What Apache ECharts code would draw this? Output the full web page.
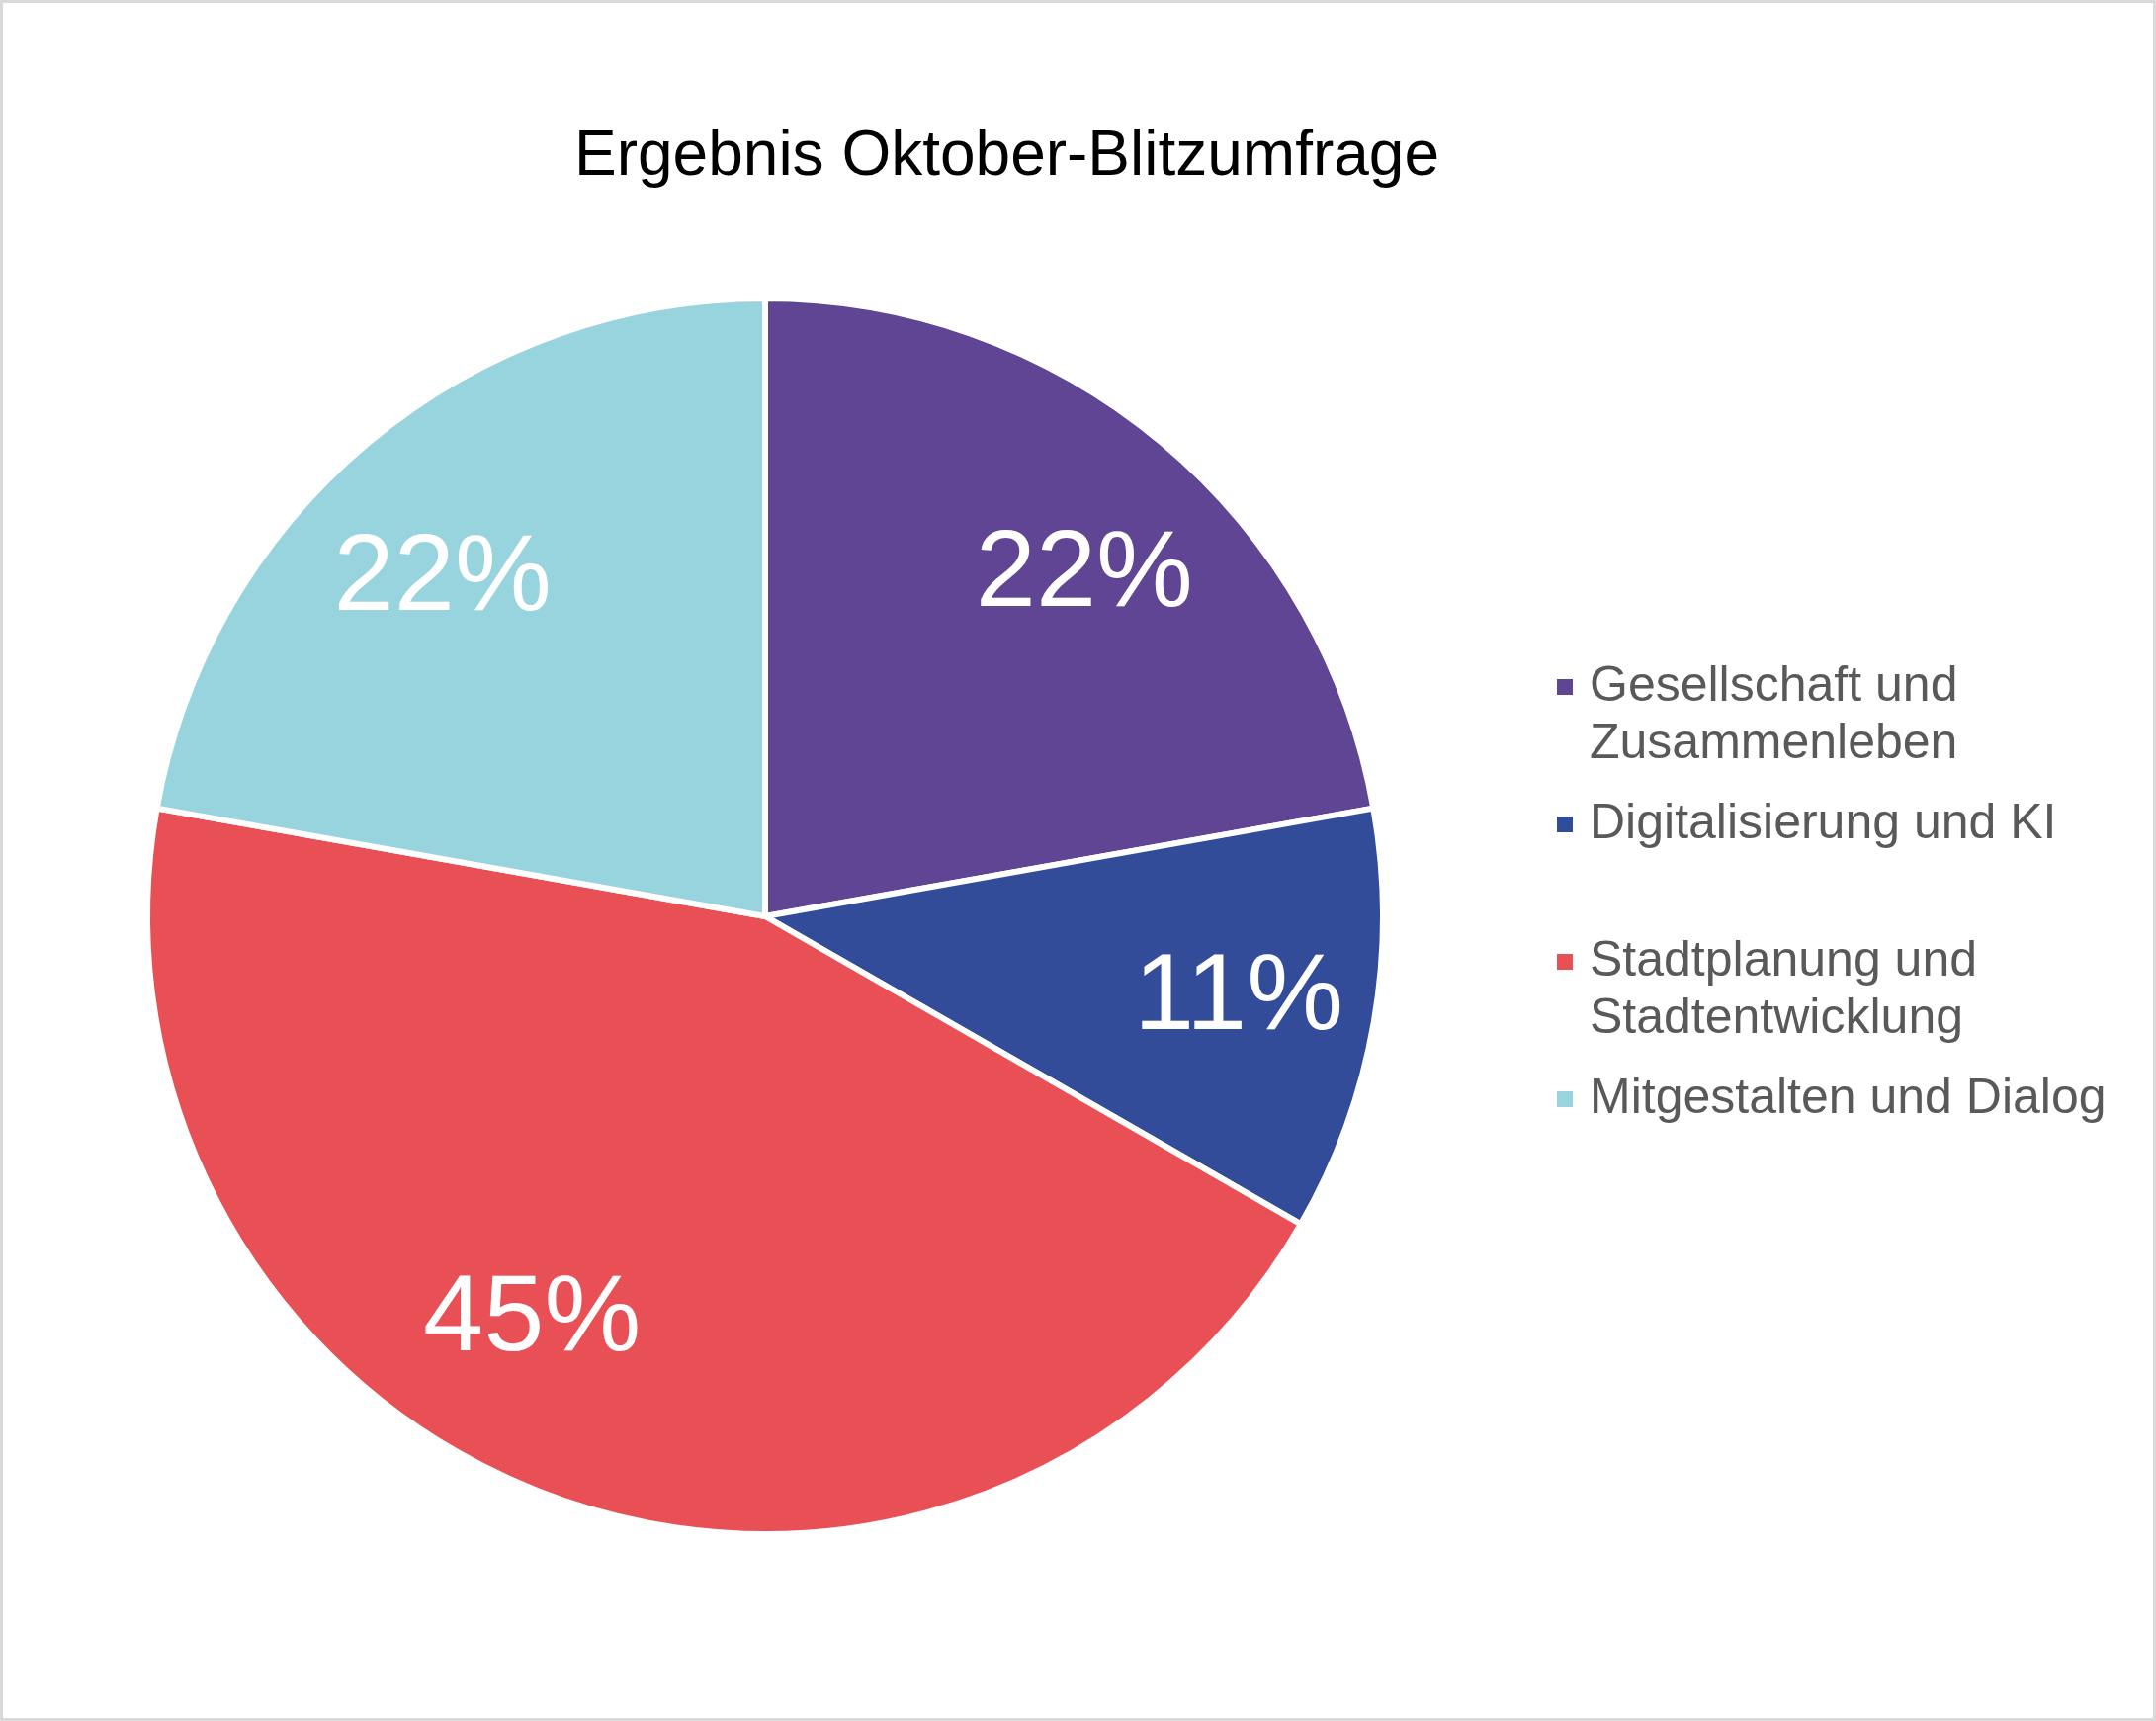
<!DOCTYPE html>
<html>
<head>
<meta charset="utf-8">
<title>Ergebnis Oktober-Blitzumfrage</title>
<script src="https://cdn.jsdelivr.net/npm/echarts@6/dist/echarts.min.js"></script>
<style>
  html, body { margin: 0; padding: 0; background: #fff; }
  #chart { width: 2181px; height: 1741px; }
</style>
</head>
<body>
<div id="chart"></div>
<script>
// survey result (share in percent)
const categories = [
  'Gesellschaft und Zusammenleben',
  'Digitalisierung und KI',
  'Stadtplanung und Stadtentwicklung',
  'Mitgestalten und Dialog'
]
const shares = [22.2, 11.1, 44.5, 22.2]
const colors = ['#5f4594', '#334c9a', '#e95055', '#98d4dd']

const FONT = "'Liberation Sans', Arial, Helvetica, sans-serif"
const cx = 774
const cy = 927
const R = 625
// excel "best fit" does not put the labels exactly on the middle angle,
// small turn (degrees, clockwise) and distance (part of radius) per slice
const labelTurn = [3.2, 0, 10, -3.8]
const labelDist = [0.755, 0.778, 0.755, 0.755]

// long legend names go on two lines, like in the original
// (empty first line so the marker ends up next to the first real line)
const wrapName = (name) => name.length > 25 ? '\n' + name.replace(' und ', ' und\n') : name

const chart = echarts.init(document.getElementById('chart'))

chart.setOption({
  animation: false,
  backgroundColor: '#fff',
  color: colors,
  title: {
    text: 'Ergebnis Oktober-Blitzumfrage',
    left: 581,
    top: 127,
    padding: 0,
    textStyle: { fontFamily: FONT, fontSize: 64, fontWeight: 'normal', color: '#000', lineHeight: 64 }
  },
  legend: {
    orient: 'vertical',
    left: 1573,
    top: 608,
    padding: 0,
    itemGap: 23,
    itemWidth: 18,
    itemHeight: 18,
    icon: 'rect',
    selectedMode: false,
    formatter: wrapName,
    textStyle: { fontFamily: FONT, fontSize: 50, color: '#595959', lineHeight: 58, padding: [0, 0, 0, 11] },
    data: categories
  },
  graphic: [{
    type: 'rect',
    shape: { x: 1.5, y: 1.5, width: 2178, height: 1738 },
    style: { fill: 'none', stroke: '#d9d9d9', lineWidth: 3 },
    silent: true
  }],
  series: [{
    type: 'pie',
    center: [cx, cy],
    radius: R,
    startAngle: 90,
    clockwise: true,
    silent: true,
    itemStyle: { borderColor: '#fff', borderWidth: 6 },
    label: {
      show: true,
      position: 'inside',
      formatter: (p) => Math.round(p.percent) + '%',
      fontFamily: FONT,
      fontSize: 110,
      color: '#fff'
    },
    labelLine: { show: false },
    // take the direction of the inside label, turn it a bit and move it out
    labelLayout: (params) => {
      const i = params.dataIndex
      const r = params.labelRect
      const lx = r.x + r.width / 2
      const ly = r.y + r.height / 2
      const a = labelTurn[i] * Math.PI / 180
      const d = labelDist[i] * R
      const len = Math.hypot(lx - cx, ly - cy)
      const ux = (lx - cx) / len
      const uy = (ly - cy) / len
      const nx = cx + d * (ux * Math.cos(a) - uy * Math.sin(a))
      const ny = cy + d * (ux * Math.sin(a) + uy * Math.cos(a))
      return { dx: nx - lx, dy: ny - ly }
    },
    data: categories.map((name, i) => ({ name, value: shares[i] }))
  }]
})
</script>
</body>
</html>
